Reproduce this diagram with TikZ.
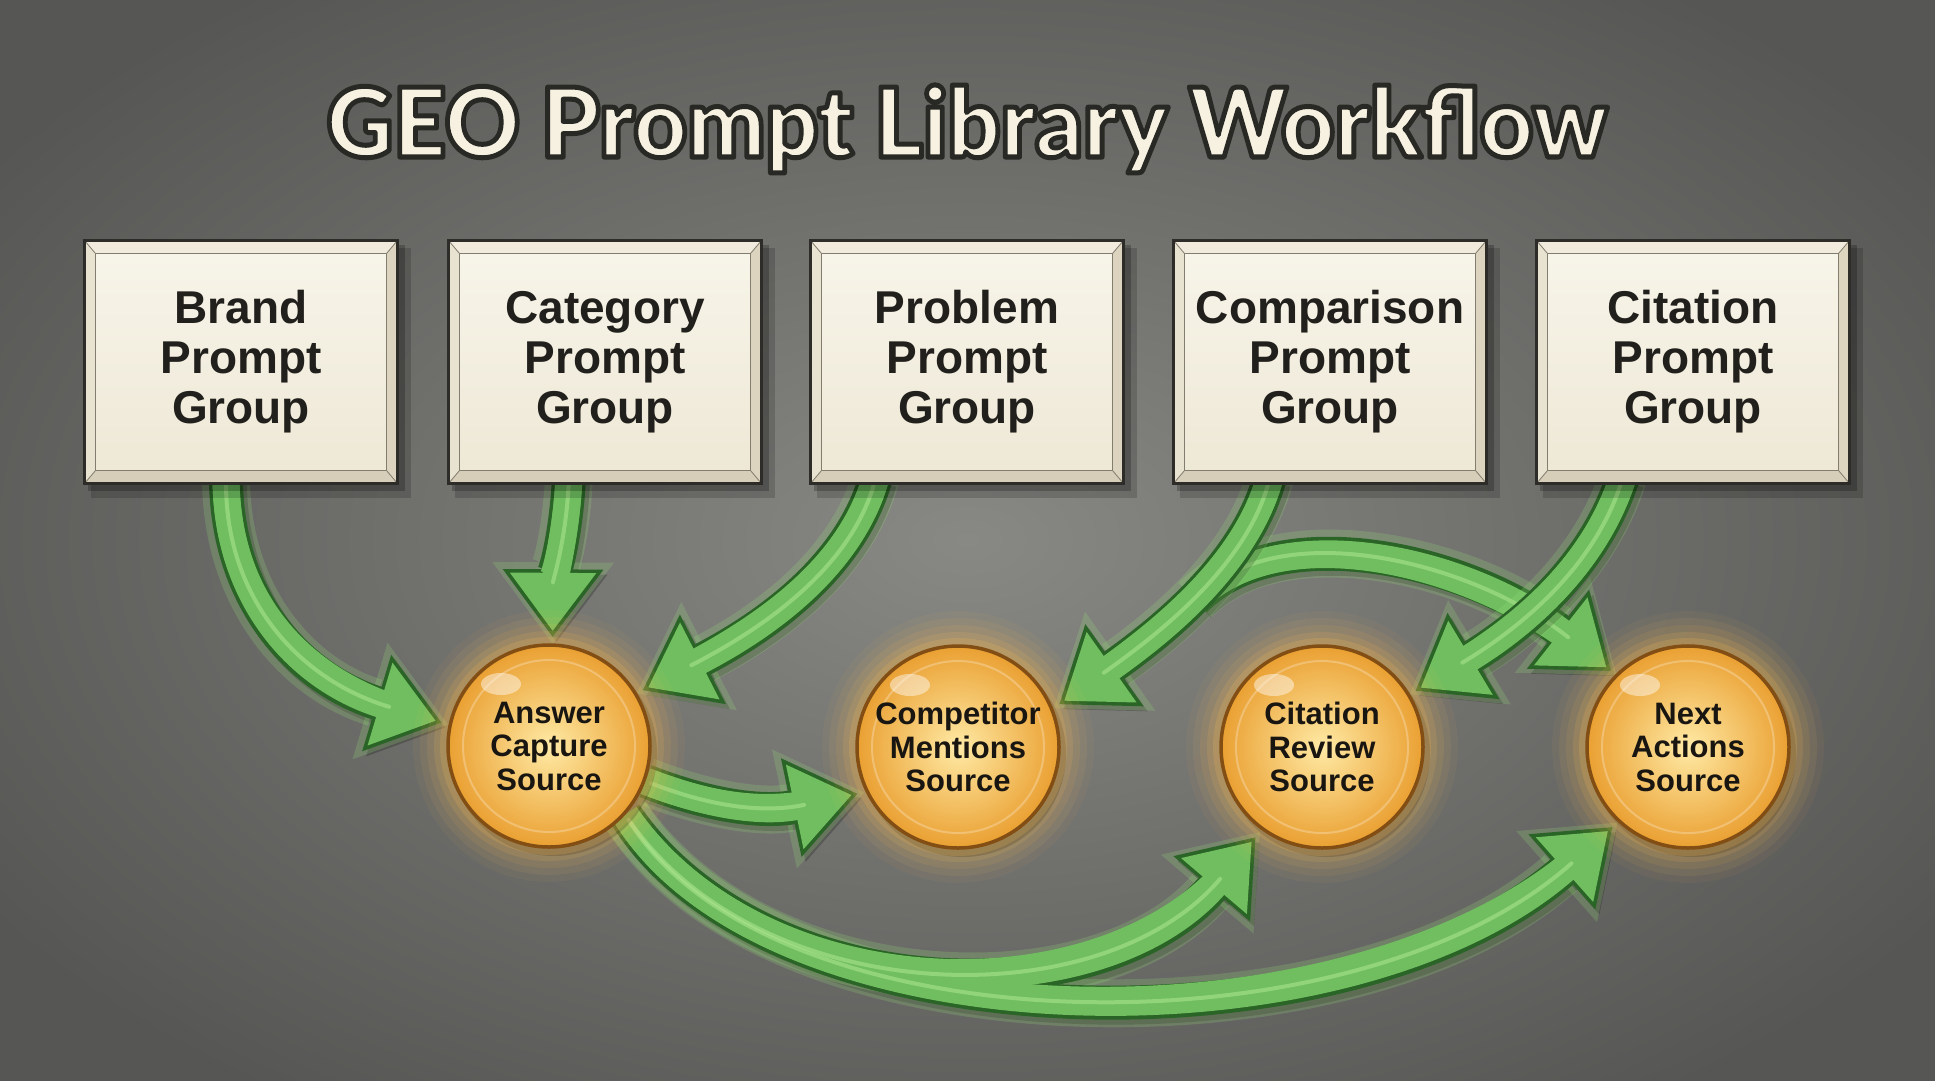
\documentclass[tikz,border=0pt]{standalone}
\usepackage{fontspec}
\setmainfont{Liberation Sans}
\newfontfamily\titlefont{Lato Black}
\usetikzlibrary{arrows.meta,calc}
\pgfdeclarelayer{back}
\pgfdeclarelayer{arrows}
\pgfsetlayers{back,arrows,main}

\definecolor{bgin}{RGB}{136,136,132}
\definecolor{bgout}{RGB}{86,86,84}
\definecolor{tcream}{RGB}{246,241,224}
\definecolor{tdark}{RGB}{40,40,36}
\definecolor{boxline}{RGB}{45,44,40}
\definecolor{bevtop}{RGB}{240,235,220}
\definecolor{bevleft}{RGB}{232,226,208}
\definecolor{bevbot}{RGB}{214,206,184}
\definecolor{bevright}{RGB}{220,212,190}
\definecolor{panel1}{RGB}{247,244,233}
\definecolor{panel2}{RGB}{238,232,214}
\definecolor{panelline}{RGB}{130,125,110}
\definecolor{boxtext}{RGB}{34,32,29}
\definecolor{ballin}{RGB}{255,234,165}
\definecolor{ballout}{RGB}{234,160,50}
\definecolor{balledge}{RGB}{130,78,20}
\definecolor{balltext}{RGB}{25,22,18}
\definecolor{glowor}{RGB}{255,190,80}
\definecolor{gdark}{RGB}{42,100,38}
\definecolor{glight}{RGB}{112,190,96}
\definecolor{ghi}{RGB}{170,228,140}
\definecolor{gglow}{RGB}{150,225,120}

\tikzset{
  titlestyle/.style={anchor=base, inner sep=0pt, xscale=0.96, font=\titlefont\fontsize{96}{100}\selectfont},
  pbox/.style={rectangle, draw=boxline, line width=3pt, minimum width=313pt, minimum height=243pt,
    inner sep=0pt, align=center, text=boxtext, font=\fontsize{46}{50}\selectfont\bfseries},
  srcball/.style={circle, minimum size=202pt, inner sep=0pt, draw=balledge, line width=3.5pt,
    inner color=ballin, outer color=ballout, align=center, text=balltext,
    font=\fontsize{31}{33.5}\selectfont\bfseries,
    path picture={
      \fill[white, opacity=0.45] ($(path picture bounding box.center)+(-48,-62)$) ellipse (20 and 11);
      \draw[white, opacity=0.25, line width=2pt] (path picture bounding box.center) circle[radius=86];
    }},
  arrshadow/.style={draw=black, line width=34pt, opacity=0.22, -{Triangle[length=68pt,width=96pt]}},
  arrglow/.style={draw=gglow, line width=48pt, opacity=0.22, -{Triangle[length=82pt,width=116pt]}},
  arrdark/.style={draw=gdark, line width=34pt, -{Triangle[length=68pt,width=96pt]}},
  arrlight/.style={draw=glight, line width=27pt, -{Triangle[length=58.4pt,width=82.4pt]}},
  arrshaft/.style={draw=glight, line width=27pt},
  arrhi/.style={draw=ghi, line width=4pt, line cap=round, opacity=0.6},
}

\newcommand{\garrow}[2]{%
  \draw[arrshadow, shorten >=#1pt, transform canvas={xshift=4pt,yshift=-5pt}] #2;
  \draw[arrglow, shorten >={#1pt-7pt}] #2;
  \draw[arrdark, shorten >=#1pt] #2;
  \draw[arrlight, shorten >={#1pt+6.1pt}] #2;
  \draw[arrshaft, shorten >={#1pt+40pt}] #2;
  \draw[arrhi, shorten >={#1pt+55pt}, shorten <=6pt] #2;
}

\newcommand{\promptbox}[4]{%
\begin{scope}[shift={(#2,#3)}]
  \fill[black,opacity=0.16] (-150,-114) rectangle (170,136);
  \fill[black,opacity=0.22] (-153,-117) rectangle (164,129);
  \fill[bevtop] (-156.5,-121.5) -- (156.5,-121.5) -- (145.5,-108.5) -- (-145.5,-108.5) -- cycle;
  \fill[bevleft] (-156.5,-121.5) -- (-145.5,-108.5) -- (-145.5,108.5) -- (-156.5,121.5) -- cycle;
  \fill[bevbot] (-156.5,121.5) -- (156.5,121.5) -- (145.5,108.5) -- (-145.5,108.5) -- cycle;
  \fill[bevright] (156.5,-121.5) -- (145.5,-108.5) -- (145.5,108.5) -- (156.5,121.5) -- cycle;
  \shade[top color=panel1, bottom color=panel2] (-145.5,-108.5) rectangle (145.5,108.5);
  \draw[panelline, line width=1pt] (-145.5,-108.5) rectangle (145.5,108.5);
  \draw[panelline, line width=0.8pt] (-156.5,-121.5) -- (-145.5,-108.5) (156.5,-121.5) -- (145.5,-108.5)
    (-156.5,121.5) -- (-145.5,108.5) (156.5,121.5) -- (145.5,108.5);
  \node[pbox] (#1) at (0,0) {#4};
\end{scope}}

\newcommand{\srcnode}[4]{%
\begin{scope}[shift={(#2,#3)}]
  \fill[black, opacity=0.25] (5,7) circle[radius=103];
  \foreach \r/\o in {136/0.05,129/0.07,122/0.09,115/0.13,109/0.18}{\fill[glowor, opacity=\o] (0,0) circle[radius=\r];}
  \node[srcball] (#1) at (0,0) {#4};
\end{scope}}

\begin{document}
\begin{tikzpicture}[x=1pt,y=-1pt]
\useasboundingbox (0,0) rectangle (1935,1080);
\begin{pgfonlayer}{back}
  \shade[inner color=bgin, outer color=bgout] (-200,-150) rectangle (2135,1230);
\end{pgfonlayer}

% title: filled and stroked outline text (PDF text render mode 2)
\node[titlestyle, text=tcream] (title) at (967,157)
  {\special{pdf:literal direct 2 Tr 5 w 1 j 0.157 0.157 0.141 RG}GEO Prompt Library Workflow\special{pdf:literal direct 0 Tr}};

% prompt groups
\promptbox{b1}{241}{362}{Brand\\Prompt\\Group}
\promptbox{b2}{605}{362}{Category\\Prompt\\Group}
\promptbox{b3}{967}{362}{Problem\\Prompt\\Group}
\promptbox{b4}{1330}{362}{Comparison\\Prompt\\Group}
\promptbox{b5}{1693}{362}{Citation\\Prompt\\Group}

% sources
\srcnode{ans}{549}{746}{Answer\\Capture\\Source}
\srcnode{comp}{958}{747}{Competitor\\Mentions\\Source}
\srcnode{cit}{1322}{747}{Citation\\Review\\Source}
\srcnode{next}{1688}{747}{Next\\Actions\\Source}

\coordinate (cmpbranch) at ($(b4.south)+(-135,115)$);

\begin{pgfonlayer}{arrows}
  \garrow{7}{($(b1.south)+(-15,-8)$) .. controls (226,600) and (300,680) .. (ans.168)}
  \garrow{6}{($(b2.south)+(-36,-8)$) .. controls (566,540) and (553,580) .. (ans.88)}
  \garrow{6}{($(b3.south)+(-91,-8)$) .. controls (850,570) and (760,630) .. (ans.31)}
  \garrow{5}{(cmpbranch) .. controls (1280,515) and (1470,560) .. (next.135)}
  \garrow{7}{($(b4.south)+(-60,-8)$) .. controls (1245,570) and (1150,640) .. (comp.22)}
  \garrow{6}{($(b5.south)+(-70,-8)$) .. controls (1590,580) and (1500,640) .. (cit.31)}
  \garrow{8}{(ans.-20) .. controls (720,810) and (770,812) .. (comp.206)}
  % two arrows sharing a trunk
  \draw[arrshadow, shorten >=9pt, transform canvas={xshift=4pt,yshift=-5pt}] (ans.-42) .. controls (760,1010) and (1100,1020) .. (cit.234);
  \draw[arrshadow, shorten >=7pt, transform canvas={xshift=4pt,yshift=-5pt}] (ans.-42) .. controls (770,1050) and (1350,1060) .. (next.227);
  \draw[arrglow, shorten >=2pt] (ans.-42) .. controls (760,1010) and (1100,1020) .. (cit.234);
  \draw[arrglow, shorten >=0pt] (ans.-42) .. controls (770,1050) and (1350,1060) .. (next.227);
  \draw[arrdark, shorten >=9pt] (ans.-42) .. controls (760,1010) and (1100,1020) .. (cit.234);
  \draw[arrdark, shorten >=7pt] (ans.-42) .. controls (770,1050) and (1350,1060) .. (next.227);
  \draw[arrlight, shorten >=15.1pt] (ans.-42) .. controls (760,1010) and (1100,1020) .. (cit.234);
  \draw[arrlight, shorten >=13.1pt] (ans.-42) .. controls (770,1050) and (1350,1060) .. (next.227);
  \draw[arrshaft, shorten >=49pt] (ans.-42) .. controls (760,1010) and (1100,1020) .. (cit.234);
  \draw[arrshaft, shorten >=47pt] (ans.-42) .. controls (770,1050) and (1350,1060) .. (next.227);
  \draw[arrhi, shorten >=64pt, shorten <=6pt] (ans.-42) .. controls (760,1010) and (1100,1020) .. (cit.234);
  \draw[arrhi, shorten >=62pt, shorten <=6pt] (ans.-42) .. controls (770,1050) and (1350,1060) .. (next.227);
\end{pgfonlayer}
\end{tikzpicture}
\end{document}
